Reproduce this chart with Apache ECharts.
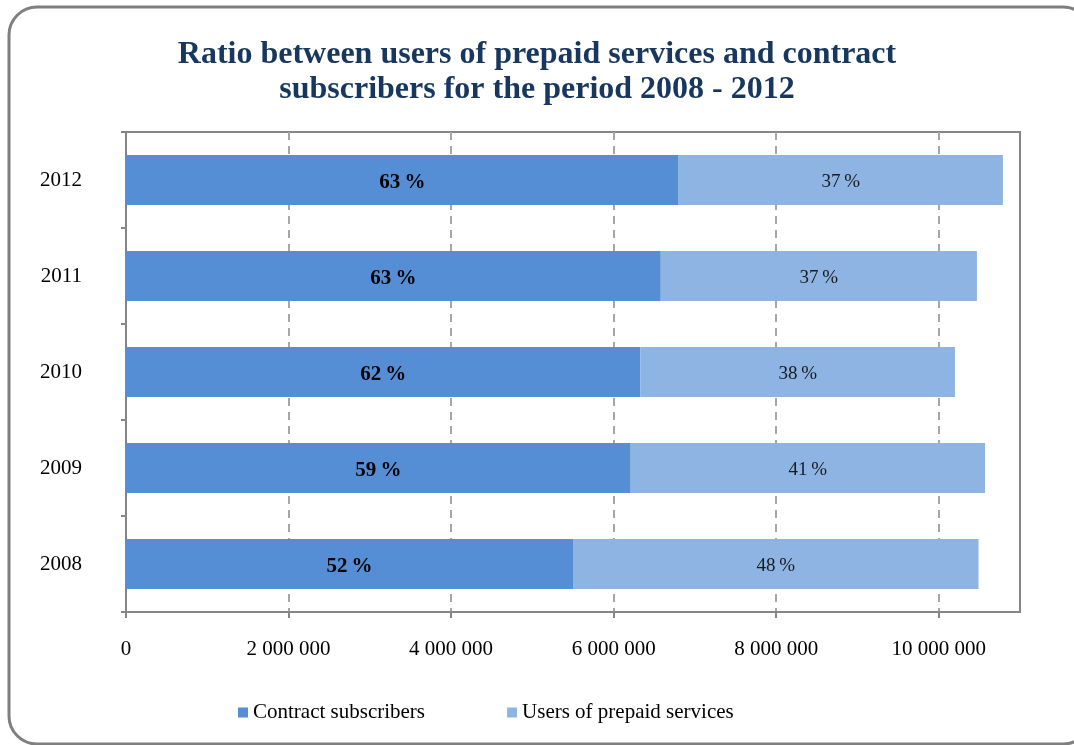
<!DOCTYPE html>
<html>
<head>
<meta charset="utf-8">
<script src="https://cdn.jsdelivr.net/npm/echarts@6/dist/echarts.min.js"></script>
<style>
  html, body { margin: 0; padding: 0; background: #ffffff; }
  #chart { width: 1074px; height: 745px; }
</style>
</head>
<body>
<div id="chart"></div>
<script>
// Years, bottom to top on the category axis
const years = ['2008', '2009', '2010', '2011', '2012'];
// Subscriber counts per year
const contractSubscribers = [5500000, 6210000, 6330000, 6580000, 6800000];
const prepaidUsers = [4990000, 4360000, 3870000, 3890000, 3990000];
// Value axis ticks
const xTicks = [0, 2000000, 4000000, 6000000, 8000000, 10000000];

const serif = '"Liberation Serif", "DejaVu Serif", serif';

function share(i, own) {
  const total = contractSubscribers[i] + prepaidUsers[i];
  return Math.round(own / total * 100) + '\u2009%';
}

function spaced(v) {
  return String(Math.round(v)).replace(/\B(?=(\d{3})+(?!\d))/g, ' ');
}

const chart = echarts.init(document.getElementById('chart'), null, { renderer: 'canvas' });

chart.setOption({
  animation: false,
  backgroundColor: '#ffffff',
  graphic: [{
    type: 'rect',
    shape: { x: 9, y: 7, width: 1082, height: 737, r: 28 },
    style: { fill: 'none', stroke: '#7f7f7f', lineWidth: 3 },
    z: 0
  }],
  title: {
    text: 'Ratio between users of prepaid services and contract\nsubscribers for the period 2008 - 2012',
    left: 'center',
    top: 32,
    textStyle: {
      fontFamily: serif,
      fontSize: 32,
      fontWeight: 'bold',
      color: '#17375E',
      lineHeight: 35
    }
  },
  legend: {
    left: 233,
    top: 697,
    icon: 'rect',
    itemWidth: 10,
    itemHeight: 10,
    itemGap: 82,
    textStyle: { fontFamily: serif, fontSize: 21, color: '#000000' },
    data: ['Contract subscribers', 'Users of prepaid services']
  },
  grid: {
    left: 126,
    right: 54,
    top: 132,
    bottom: 133,
    show: true,
    borderColor: '#868686',
    borderWidth: 2,
    containLabel: false
  },
  xAxis: {
    type: 'value',
    min: 0,
    max: 11000000,
    interval: 2000000,
    axisLine: { show: true, lineStyle: { color: '#868686', width: 2 } },
    axisTick: { show: true, length: 6, customValues: xTicks, lineStyle: { color: '#868686', width: 2 } },
    axisLabel: {
      customValues: xTicks,
      margin: 27,
      fontFamily: serif,
      fontSize: 21,
      color: '#000000',
      formatter: spaced
    },
    splitLine: { show: true, lineStyle: { color: '#a6a6a6', width: 2, type: [8, 6] } }
  },
  yAxis: {
    type: 'category',
    data: years,
    axisLine: { show: true, lineStyle: { color: '#868686', width: 2 } },
    axisTick: { show: true, length: 5, lineStyle: { color: '#868686', width: 2 } },
    axisLabel: { margin: 44, fontFamily: serif, fontSize: 21, color: '#000000' },
    splitLine: { show: false }
  },
  series: [
    {
      name: 'Contract subscribers',
      type: 'bar',
      stack: 'total',
      barWidth: 50,
      data: contractSubscribers,
      itemStyle: { color: '#558ED5' },
      label: {
        show: true,
        position: 'inside',
        offset: [0, 3],
        fontFamily: serif,
        fontSize: 21,
        fontWeight: 'bold',
        color: '#000000',
        formatter: p => share(p.dataIndex, p.value)
      }
    },
    {
      name: 'Users of prepaid services',
      type: 'bar',
      stack: 'total',
      barWidth: 50,
      data: prepaidUsers,
      itemStyle: { color: '#8EB4E3' },
      label: {
        show: true,
        position: 'inside',
        offset: [0, 2],
        fontFamily: serif,
        fontSize: 19,
        color: '#1a1a1a',
        formatter: p => share(p.dataIndex, p.value)
      }
    }
  ]
});
</script>
</body>
</html>
